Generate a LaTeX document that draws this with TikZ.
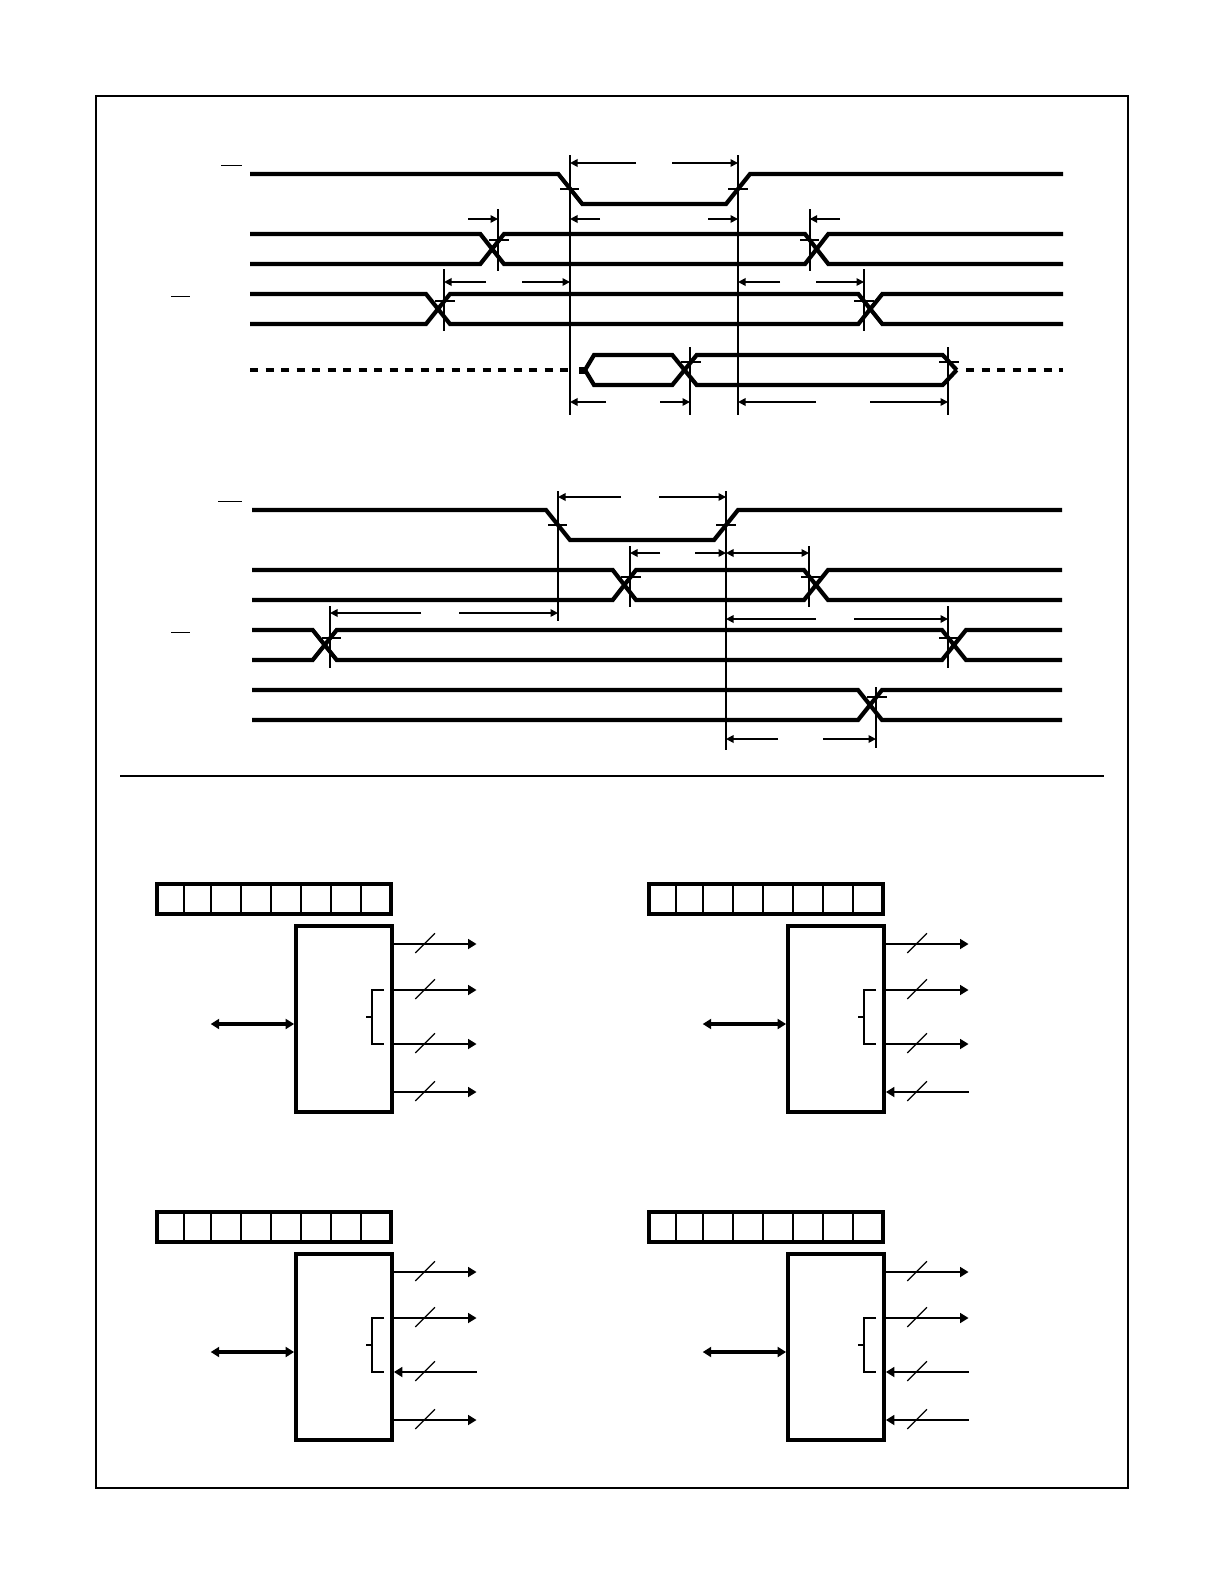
\documentclass[tikz,border=0pt]{standalone}
\usetikzlibrary{arrows.meta,positioning}

\begin{document}
\begin{tikzpicture}[
        x=1pt, y=-1pt,
        frame/.style={draw, line width=2pt},
        sigline/.style={line width=4.2pt},
        sigdash/.style={line width=4.6pt, dash pattern=on 8pt off 7.5pt},
        marker/.style={line width=1.8pt},
        thinmarker/.style={line width=1.2pt},
        crossbar/.style={line width=1.7pt},
        overbar/.style={line width=1pt},
        dimarrow/.style={-{Triangle[length=7.5pt,width=7.5pt]}, line width=1.7pt},
        dimboth/.style={{Triangle[length=7.5pt,width=7.5pt]}-{Triangle[length=7.5pt,width=7.5pt]}, line width=1.7pt},
        regbox/.style={rectangle, draw, line width=3.8pt, minimum width=233.7pt, minimum height=29.7pt, inner sep=0pt},
        chipbox/.style={rectangle, draw, line width=3.8pt, minimum width=96pt, minimum height=186pt, inner sep=0pt},
        celldiv/.style={line width=1.7pt},
        sigout/.style={-{Triangle[length=8.5pt,width=10pt]}, line width=1.8pt},
        sigin/.style={{Triangle[length=8.5pt,width=10pt]}-, line width=1.8pt},
        hostbus/.style={{Triangle[length=8.5pt,width=10pt]}-{Triangle[length=8.5pt,width=10pt]}, line width=3.2pt},
        bracket/.style={line width=1.8pt},
        slash/.style={line width=1.2pt}
    ]
        \useasboundingbox (0,0) rectangle (1224,1584);

        % Outer frame and divider
        \node[frame, rectangle, minimum width=1032pt, minimum height=1391.5pt, inner sep=0pt] (page) at (612,792.25) {};
        \coordinate (divl) at (120,775.5);
        \coordinate (divr) at (1104,775.5);
        \draw[line width=2pt] (divl) -- (divr);

        % Overbars
        \draw[overbar] (221,165.5) -- (242,165.5);
        \draw[overbar] (171,296.5) -- (190,296.5);
        \draw[overbar] (218,501.5) -- (242,501.5);
        \draw[overbar] (171,632.5) -- (190,632.5);

        % Upper timing: signals
        \draw[sigline] (250,174) -- (558.3,174) -- (582.3,204) -- (726,204) -- (750,174) -- (1063,174);
        \foreach \yp/\yq in {234/264,264/234}
            \draw[sigline] (250,\yp) -- (480.3,\yp) -- (504,\yq) -- (805,\yq) -- (828.3,\yp) -- (1063,\yp);
        \foreach \yp/\yq in {294/324,324/294}
            \draw[sigline] (250,\yp) -- (426,\yp) -- (450,\yq) -- (858.3,\yq) -- (882.3,\yp) -- (1063,\yp);
        \draw[sigdash] (250,370) -- (570,370);
        \draw[sigdash] (966,370) -- (1063,370);
        \foreach \yp/\yq in {355/385,385/355}
            \draw[sigline] (585,370) -- (594,\yp) -- (672.3,\yp) -- (696.7,\yq) -- (942.7,\yq) -- (956.7,370);
        \draw[line width=7pt] (579,370) -- (586,370);

        % Upper timing: markers
        \coordinate (ua) at (570,155);
        \coordinate (ub) at (738,155);
        \coordinate (uc) at (498,209.3);
        \coordinate (ud) at (809.7,209.3);
        \coordinate (ue) at (444,269);
        \coordinate (uf) at (864,269);
        \coordinate (ug) at (690,347);
        \coordinate (uh) at (948,347);
        \draw[marker] (ua) -- ++(0,260);
        \draw[marker] (ub) -- ++(0,260);
        \draw[marker] (uc) -- ++(0,61.4);
        \draw[marker] (ud) -- ++(0,61.4);
        \draw[marker] (ue) -- ++(0,61.7);
        \draw[marker] (uf) -- ++(0,61.7);
        \draw[marker] (ug) -- ++(0,68);
        \draw[marker] (uh) -- ++(0,68);

        % Upper timing: crossbars
        \foreach \ya/\xa/\xb in {189/560/578.7,189/728/748,240/489.3/509,240/800/819,301/435/455,301/854/874,362/681/701,362/939/959}
            \draw[crossbar] (\xa,\ya) -- (\xb,\ya);

        % Upper timing: dimension arrows
        \draw[dimarrow] (636,163) -- (ua |- 0,163);
        \draw[dimarrow] (672,163) -- (ub |- 0,163);
        \draw[dimarrow] (468,219) -- (uc |- 0,219);
        \draw[dimarrow] (600,219) -- (ua |- 0,219);
        \draw[dimarrow] (708,219) -- (ub |- 0,219);
        \draw[dimarrow] (840,219) -- (ud |- 0,219);
        \draw[dimarrow] (486,282) -- (ue |- 0,282);
        \draw[dimarrow] (522,282) -- (ua |- 0,282);
        \draw[dimarrow] (780,282) -- (ub |- 0,282);
        \draw[dimarrow] (816,282) -- (uf |- 0,282);
        \draw[dimarrow] (606,402) -- (ua |- 0,402);
        \draw[dimarrow] (660,402) -- (ug |- 0,402);
        \draw[dimarrow] (816,402) -- (ub |- 0,402);
        \draw[dimarrow] (870,402) -- (uh |- 0,402);

        % Lower timing: signals
        \draw[sigline] (252,510) -- (546,510) -- (570,540) -- (714,540) -- (738,510) -- (1062,510);
        \foreach \yp/\yq in {570/600,600/570}
            \draw[sigline] (252,\yp) -- (612.7,\yp) -- (636,\yq) -- (804,\yq) -- (828,\yp) -- (1062,\yp);
        \foreach \yp/\yq in {630/660,660/630}
            \draw[sigline] (252,\yp) -- (312.7,\yp) -- (336.7,\yq) -- (942,\yq) -- (966,\yp) -- (1062,\yp);
        \foreach \yp/\yq in {690/720,720/690}
            \draw[sigline] (252,\yp) -- (858,\yp) -- (882,\yq) -- (1062,\yq);

        % Lower timing: markers
        \coordinate (la) at (558,491);
        \coordinate (lb) at (726,491);
        \coordinate (lc) at (630,546);
        \coordinate (ld) at (809,546);
        \coordinate (le) at (330,606);
        \coordinate (lf) at (948,606);
        \coordinate (lg) at (876,687);
        \draw[marker] (la) -- ++(0,129.7);
        \draw[marker, line width=2.2pt] (lb) -- ++(0,259);
        \draw[marker] (lc) -- ++(0,60.7);
        \draw[thinmarker] (ld) -- ++(0,60.7);
        \draw[marker] (le) -- ++(0,61.7);
        \draw[marker] (lf) -- ++(0,61.7);
        \draw[thinmarker] (lg) -- ++(0,61);

        % Lower timing: crossbars
        \foreach \ya/\xa/\xb in {525/548/567,525/716/736,577/620.7/640.7,577/801/820.7,638/321.7/341,638/939/959,697/867/887}
            \draw[crossbar] (\xa,\ya) -- (\xb,\ya);

        % Lower timing: dimension arrows
        \draw[dimarrow] (621,497) -- (la |- 0,497);
        \draw[dimarrow] (659,497) -- (lb |- 0,497);
        \draw[dimarrow] (660,553) -- (lc |- 0,553);
        \draw[dimarrow] (695,553) -- (lb |- 0,553);
        \draw[dimboth] (lb |- 0,553) -- (ld |- 0,553);
        \draw[dimarrow] (421,613) -- (le |- 0,613);
        \draw[dimarrow] (459,613) -- (la |- 0,613);
        \draw[dimarrow] (816,619) -- (lb |- 0,619);
        \draw[dimarrow] (854,619) -- (lf |- 0,619);
        \draw[dimarrow] (778,739) -- (lb |- 0,739);
        \draw[dimarrow] (823,739) -- (lg |- 0,739);

        % Register and chip blocks
        \foreach \n/\dx/\dy/\dirc/\dird in {a/0/0/sigout/sigout,b/492/0/sigout/sigin,c/0/328/sigin/sigout,d/492/328/sigin/sigin} {
            \begin{scope}[shift={(\dx,\dy)}]
                \node[regbox] (reg\n) at (273.9,898.9) {};
                \node[chipbox] (chip\n) at (344,1019) {};
                \foreach \xc in {184,211,241,271,301,331,361}
                    \draw[celldiv] (\xc,884) -- (\xc,913.7);

                % Host side
                \coordinate (host\n) at (210.7,1024);
                \draw[hostbus] (host\n) -- (chip\n.west |- host\n);

                % Port lines
                \foreach \k/\yo/\st in {1/944/sigout,2/990/sigout,3/1044/\dirc,4/1092/\dird} {
                    \coordinate (port\n\k) at (476.5,\yo);
                    \draw[\st] (chip\n.east |- port\n\k) -- (port\n\k);
                    \draw[slash] (415.3,\yo+9) -- (435,\yo-10.7);
                }

                % Bracket
                \draw[bracket] (384,990) -- (372,990) -- (372,1044) -- (384,1044);
                \draw[bracket] (366,1017) -- (372,1017);
            \end{scope}
        }
\end{tikzpicture}
\end{document}
